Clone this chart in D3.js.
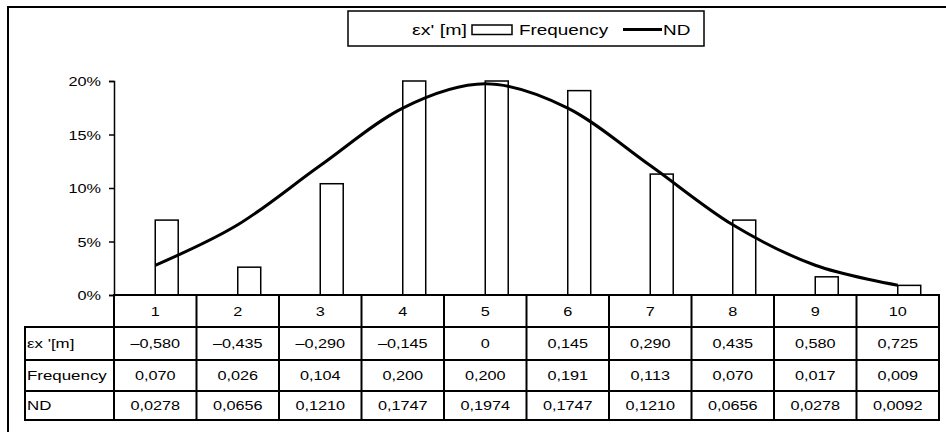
<!DOCTYPE html>
<html>
<head>
<meta charset="utf-8">
<script src="https://cdn.jsdelivr.net/npm/d3@7"></script>
<style>
  body { margin: 0; background: #fff; }
  svg { display: block; font-family: "Liberation Sans", Arial, sans-serif; }
</style>
</head>
<body>
<svg id="chart" width="946" height="432"></svg>
<script>
// Chart data
var categories = ["1", "2", "3", "4", "5", "6", "7", "8", "9", "10"];
var seriesNames = ["\u03b5x' [m]", "Frequency"];
var exValues = [-0.580, -0.435, -0.290, -0.145, 0, 0.145, 0.290, 0.435, 0.580, 0.725];
var frequency = [0.070, 0.026, 0.104, 0.200, 0.200, 0.191, 0.113, 0.070, 0.017, 0.009];
var ndValues = [0.0278, 0.0656, 0.1210, 0.1747, 0.1974, 0.1747, 0.1210, 0.0656, 0.0278, 0.0092];
var yTicks = [0, 0.05, 0.10, 0.15, 0.20];
var rowLabels = ["\u03b5x '[m]", "Frequency", "ND"];

// Text in the picture is wider than normal, so stretch it
var SX = 1.25;

var svg = d3.select('#chart');

// Number formats with comma decimals
var locale = d3.formatLocale({ decimal: ',', thousands: '.', grouping: [3], currency: ['', ''], minus: '\u2013' });
var fmt3 = locale.format('.3f');
var fmt4 = locale.format('.4f');
var fmtEx = function(v) { return v === 0 ? '0' : fmt3(v); };

// Scales
var x0 = d3.scaleBand().domain(categories).range([114, 939]).paddingInner(0.443).paddingOuter(0.2215);
var xCell = d3.scaleBand().domain(categories).range([114, 939]);
var x1 = d3.scaleBand().domain(seriesNames).range([0, x0.bandwidth()]);
var y = d3.scaleLinear().domain([0, 0.2]).range([295, 81]);

// Put a stretched text at x, y
function label(g, x, yy, txt, anchor, size, sx) {
  return g.append('text')
    .attr('transform', 'translate(' + x + ',' + yy + ') scale(' + (sx || SX) + ',1)')
    .attr('text-anchor', anchor || 'start')
    .attr('font-size', size || 13)
    .attr('fill', '#000')
    .text(txt);
}

// Outer frame (right and bottom edges fall outside the picture)
svg.append('rect')
  .attr('x', 8).attr('y', 7).attr('width', 960).attr('height', 450)
  .attr('fill', 'none').attr('stroke', '#000').attr('stroke-width', 2);

// Frequency bars
var freqData = frequency.map(function(v, i) { return { cat: categories[i], value: v }; });
svg.append('g').selectAll('rect')
  .data(freqData)
  .enter().append('rect')
  .attr('x', function(d) { return x0(d.cat) + x1('Frequency'); })
  .attr('y', function(d) { return y(d.value); })
  .attr('width', x1.bandwidth())
  .attr('height', function(d) { return y(0) - y(d.value); })
  .attr('fill', '#fff')
  .attr('stroke', '#000')
  .attr('stroke-width', 1.5);

// ND line, smoothed
var line = d3.line()
  .x(function(d, i) { return xCell(categories[i]) + xCell.bandwidth() / 2; })
  .y(function(d) { return y(d); })
  .curve(d3.curveCatmullRom.alpha(0));

svg.append('path')
  .datum(ndValues)
  .attr('d', line)
  .attr('fill', 'none')
  .attr('stroke', '#000')
  .attr('stroke-width', 3);

// Y axis
var yAxis = svg.append('g')
  .attr('transform', 'translate(114,0)')
  .call(d3.axisLeft(y).tickValues(yTicks).tickSize(5).tickFormat(d3.format('.0%')));
yAxis.select('.domain').attr('stroke', '#000').attr('stroke-width', 1.5);
yAxis.selectAll('.tick line').attr('stroke', '#000').attr('stroke-width', 1.5);
yAxis.selectAll('.tick text').remove();
yAxis.selectAll('.tick').each(function(d) {
  label(d3.select(this), -13, 4.5, d3.format('.0%')(d), 'end', 13);
});

// Data table under the axis
var table = svg.append('g');
var rowTops = [295, 327, 360, 391, 420];
var rows = [categories, exValues.map(fmtEx), frequency.map(fmt3), ndValues.map(fmt4)];

// Horizontal rules: header spans the plot only, body rows include the label column
table.selectAll('rect.rule')
  .data(rowTops)
  .enter().append('rect')
  .attr('class', 'rule')
  .attr('x', function(d, r) { return r === 0 ? 114 : 24; })
  .attr('y', function(d) { return d - 1; })
  .attr('width', function(d, r) { return r === 0 ? 826 : 916; })
  .attr('height', 2)
  .attr('fill', '#000');

// Column dividers
var colX = categories.map(function(c) { return xCell(c); }).concat([939]);
table.selectAll('rect.col')
  .data(colX)
  .enter().append('rect')
  .attr('class', 'col')
  .attr('x', function(d) { return d - 1; })
  .attr('y', rowTops[0] - 1)
  .attr('width', 2)
  .attr('height', rowTops[4] - rowTops[0] + 2)
  .attr('fill', '#000');
table.append('rect')
  .attr('x', 24).attr('y', rowTops[1] - 1)
  .attr('width', 2).attr('height', rowTops[4] - rowTops[1] + 2)
  .attr('fill', '#000');

// Cell texts
rows.forEach(function(vals, r) {
  var mid = (rowTops[r] + rowTops[r + 1]) / 2 + 4.5;
  vals.forEach(function(v, i) {
    label(table, xCell(categories[i]) + xCell.bandwidth() / 2, mid, v, 'middle', 13);
  });
  if (r > 0) label(table, 27, mid, rowLabels[r - 1], 'start', 13, 1.3);
});

// Legend
var legend = svg.append('g');
legend.append('rect')
  .attr('x', 348).attr('y', 11).attr('width', 356).attr('height', 35)
  .attr('fill', '#fff').attr('stroke', '#000').attr('stroke-width', 1.5);
label(legend, 467, 35, seriesNames[0], 'end', 14, 1.4);
legend.append('rect')
  .attr('x', 472).attr('y', 25).attr('width', 40).attr('height', 9.5)
  .attr('fill', '#fff').attr('stroke', '#000').attr('stroke-width', 1.5);
label(legend, 519, 35, seriesNames[1], 'start', 14, 1.35);
legend.append('line')
  .attr('x1', 623).attr('x2', 662).attr('y1', 29.5).attr('y2', 29.5)
  .attr('stroke', '#000').attr('stroke-width', 3);
label(legend, 663, 35, 'ND', 'start', 14, 1.35);
</script>
</body>
</html>
